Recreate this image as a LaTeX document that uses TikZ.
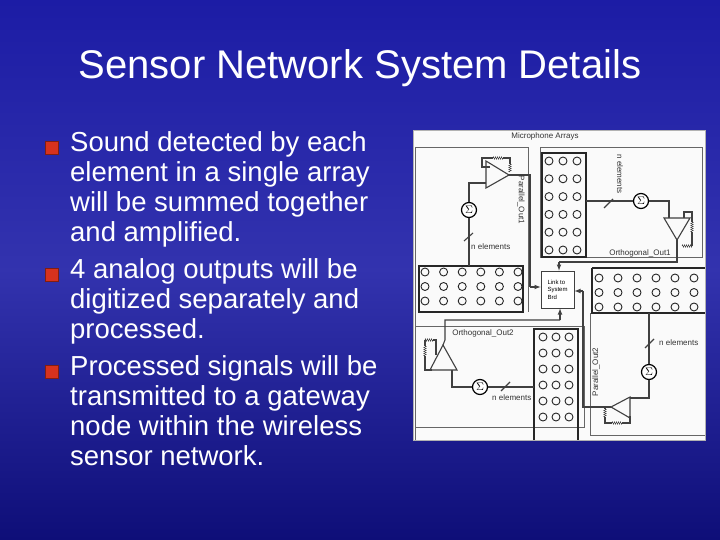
\documentclass[tikz,border=0pt]{standalone}
\usepackage{fontspec}
\setmainfont{Liberation Sans}
\usetikzlibrary{shapes,arrows,decorations,decorations.pathmorphing,positioning,backgrounds}
\definecolor{slideblue}{RGB}{28,28,165}
\definecolor{slidedark}{RGB}{14,14,120}
\definecolor{bulletred}{RGB}{215,50,30}
\definecolor{paper}{RGB}{250,250,250}
\begin{document}
\begin{tikzpicture}[x=1pt,y=-1pt]
    \tikzstyle{bulletsq}=[fill=bulletred,draw=bulletred!60!black,minimum size=13pt,inner sep=0pt]
    \tikzstyle{bodytext}=[text=white,anchor=north west,align=left,inner sep=0pt,
                          font=\fontsize{27.5}{30}\selectfont]
    \tikzstyle{summer}=[circle,draw=black,very thick,fill=white,minimum size=15pt,
                        inner sep=0pt,font=\fontsize{11}{11}\selectfont]
    \tikzstyle{tiny}=[font=\fontsize{8}{9}\selectfont,inner sep=1pt,text=black!80]
    \tikzstyle{wire}=[draw=black!75,line width=1.1pt]
    \tikzstyle{res}=[draw=black!75,decorate,decoration={zigzag,segment length=2pt,amplitude=1.3pt}]
    \tikzstyle{mic}=[draw=black!85,line width=1.2pt]

    % slide background
    \shade[top color=slideblue,bottom color=slidedark,middle color=slideblue!90!white] (0,0) rectangle (720,540);
    \useasboundingbox (0,0) rectangle (720,540);

    % title and bullets
    \node[text=white,font=\fontsize{40}{44}\selectfont] (title) at (360,68)
         {Sensor Network System Details};
    \node[bulletsq] (b1) at (52,148) {};
    \node[bulletsq] (b2) at (52,275) {};
    \node[bulletsq] (b3) at (52,372) {};
    \node[bodytext] (t1) at (70,131) {Sound detected by each\\element in a single array\\
        will be summed together\\and amplified.};
    \node[bodytext] (t2) at (70,258) {4 analog outputs will be\\digitized separately and\\processed.};
    \node[bodytext] (t3) at (70,355) {Processed signals will be\\transmitted to a gateway\\
        node within the wireless\\sensor network.};

    % the picture of the arrays
    \fill[paper] (413,130) rectangle (705,440);
    \draw[black!30] (413,130) rectangle (705,440);
    \node[tiny] (mtitle) at (545,136) {Microphone Arrays};
    \draw[black!60,thick] (415,147) -- (528,147) -- (528,312);
    \draw[black!60,thick] (415,147) -- (415,440);
    \draw[black!60,thick] (540,147) rectangle (702,257);
    \draw[black!60,thick] (415,326) -- (584,326) -- (584,427) -- (415,427);
    \draw[black!60,thick] (590,313) -- (590,435) -- (705,435);

    % arrays of microphones
    \draw[mic] (419,266) rectangle (523,312);
    \foreach \i in {0,...,5} \foreach \j in {0,...,2}
      \draw[mic,line width=0.9pt] (425+18.6*\i,272+14.5*\j) circle (4);
    \draw[mic] (542,153) rectangle (586,257);
    \foreach \i in {0,...,2} \foreach \j in {0,...,5}
      \draw[mic,line width=0.9pt] (549+14*\i,161+17.8*\j) circle (4);
    \draw[mic] (592,268) -- (705,268) (592,268) -- (592,313) -- (705,313);
    \foreach \i in {0,...,5} \foreach \j in {0,...,2}
      \draw[mic,line width=0.9pt] (599+19*\i,278+14.5*\j) circle (4);
    \draw[mic] (534,440) -- (534,329) -- (578,329) -- (578,440);
    \foreach \i in {0,...,2} \foreach \j in {0,...,5}
      \draw[mic,line width=0.9pt] (543+13*\i,337+16*\j) circle (4);

    % link box
    \node[draw=black!75,thick,fill=white,minimum width=33pt,minimum height=37pt,
          inner sep=1pt,align=left,font=\fontsize{6}{7.5}\selectfont] (link) at (557.5,289.5)
          {Link to\\System\\Brd};

    % upper left: parallel out 1
    \node[summer] (s1) at (469,210) {$\Sigma$};
    \coordinate (a1in) at (486,183);
    \draw[wire] (486,161) -- (509,175) -- (486,188) -- cycle;
    \draw[wire] (s1) -- (469,183) -- (a1in);
    \draw[wire] (s1) -- (469,266);
    \draw[wire] (464,241) -- (473,233);
    \node[tiny,anchor=west] (n1) at (470,247) {n elements};
    \draw[wire] (490,167) -- (482,167) -- (482,158) -- (493,158);
    \draw[res] (493,158) -- (503,158);
    \draw[wire] (503,158) -- (510,158) -- (510,164);
    \draw[res] (510,164) -- (510,172);
    \draw[wire] (509,175) -- (530,175) -- (530,287);
    \draw[->,>=latex,wire] (530,287) -- (link.west |- 0,287);
    \node[tiny,rotate=-90] (p1) at (521,200) {Parallel\_Out1};

    % upper right: orthogonal out 1
    \node[summer] (s2) at (641,201) {$\Sigma$};
    \draw[wire] (586,201) -- (s2);
    \draw[wire] (604,208) -- (613,199);
    \node[tiny,rotate=-90] (n2) at (620,174) {n elements};
    \draw[wire] (664,218) -- (690,218) -- (677,240) -- cycle;
    \draw[wire] (s2) -- (669,201) -- (669,218);
    \draw[wire] (684,218) -- (684,212) -- (692,212) -- (692,222);
    \draw[res] (692,222) -- (692,232);
    \draw[wire] (692,232) -- (692,246);
    \draw[res] (692,246) -- (682,246);
    \draw[wire] (677,240) -- (677,262) -- (559,262);
    \draw[->,>=latex,wire] (559,262) -- (link.north -| 559,0);
    \node[tiny] (o1) at (640,253) {Orthogonal\_Out1};

    % lower right: parallel out 2
    \node[summer] (s3) at (649,372) {$\Sigma$};
    \draw[wire] (649,313) -- (s3);
    \draw[wire] (645,348) -- (654,339);
    \node[tiny,anchor=west] (n3) at (658,343) {n elements};
    \draw[wire] (630,397) -- (630,418) -- (611,407) -- cycle;
    \draw[wire] (s3) -- (649,398) -- (630,398);
    \draw[wire] (611,407) -- (583,407) -- (583,291);
    \draw[->,>=latex,wire] (583,291) -- (link.east |- 0,291);
    \draw[wire] (605,407) -- (605,409);
    \draw[res] (605,409) -- (605,417);
    \draw[wire] (605,417) -- (605,423) -- (612,423);
    \draw[res] (612,423) -- (622,423);
    \draw[wire] (622,423) -- (630,423) -- (630,416);
    \node[tiny,rotate=90] (p2) at (596,372) {Parallel\_Out2};

    % lower left: orthogonal out 2
    \node[summer] (s4) at (480,387) {$\Sigma$};
    \draw[wire] (s4) -- (534,387);
    \draw[wire] (501,391) -- (510,382);
    \node[tiny,anchor=west] (n4) at (491,398) {n elements};
    \draw[wire] (430,370) -- (457,370) -- (443,345) -- cycle;
    \draw[wire] (s4) -- (452,387) -- (452,370);
    \draw[wire] (443,345) -- (445,340) -- (445,320) -- (560,320);
    \draw[->,>=latex,wire] (560,320) -- (link.south -| 560,0);
    \draw[wire] (436,355) -- (436,340) -- (433,340);
    \draw[res] (433,340) -- (425,340);
    \draw[wire] (425,340) -- (425,346);
    \draw[res] (425,346) -- (425,356);
    \draw[wire] (425,356) -- (425,370) -- (432,370);
    \node[tiny] (o2) at (483,333) {Orthogonal\_Out2};
\end{tikzpicture}
\end{document}
